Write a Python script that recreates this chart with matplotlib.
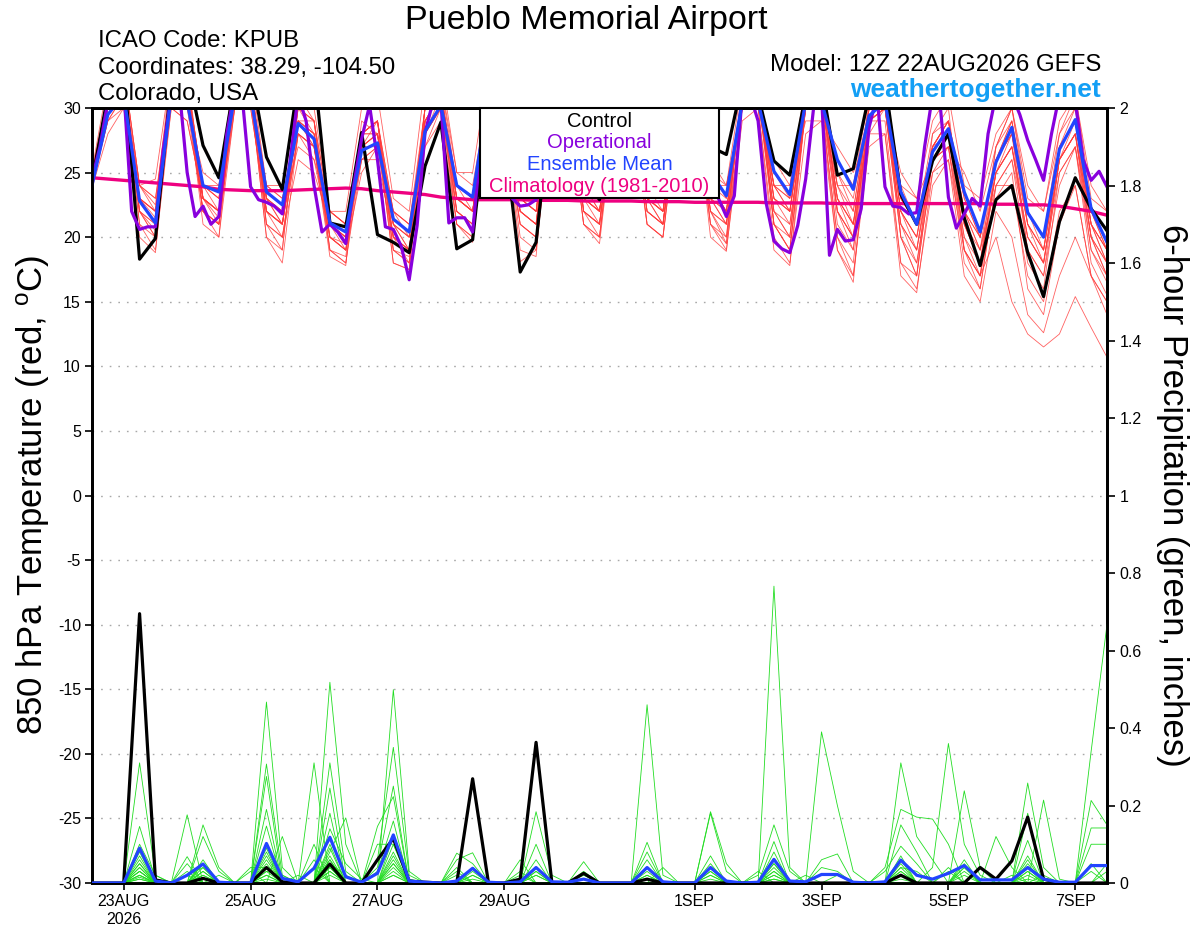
import numpy as np
import pandas as pd
import matplotlib
matplotlib.use("Agg")
import matplotlib.pyplot as plt
from matplotlib.patches import Rectangle

plt.rcParams['font.family'] = ['Liberation Sans', 'DejaVu Sans']
plt.rcParams['mathtext.fontset'] = 'custom'
plt.rcParams['mathtext.rm'] = 'Liberation Sans'
plt.rcParams['mathtext.it'] = 'Liberation Sans'

# ---------------- data ----------------
times = pd.date_range("2026-08-22 12:00", "2026-09-07 12:00", freq="6h")     # 65 GEFS steps
op_times = pd.date_range("2026-08-22 12:00", "2026-09-07 12:00", freq="3h")  # 129 operational steps

control_t = [24.3, 31, 33, 18.3, 19.9, 32, 33, 27.1, 24.6, 32, 33, 26.2, 23.7, 32, 33, 21.1, 20.8,
             28.1, 20.2, 19.6, 18.8, 25.5, 28.9, 19.1, 19.8, 31, 28, 17.3, 19.6, 31, 32, 24.5, 22.9,
             31, 32, 25, 24, 31, 32, 27, 26.4, 32, 31, 25.9, 24.8, 31, 32, 24.8, 25.3,
             31, 32, 23.3, 21.0, 25.9, 28.0, 21.5, 17.8, 22.9, 24.0, 18.8, 15.4, 21.2, 24.6, 22.2, 20.5]

mean_t = [24.0, 29.5, 31, 22.8, 21.1, 31, 30.5, 24.0, 23.5, 31, 31, 23.5, 22.5, 28.8, 27.6, 21.1, 20.4,
          26.7, 27.3, 21.4, 20.4, 28.2, 30.2, 24.0, 23.1, 31, 28, 24, 24.5, 30.5, 31, 24.5, 23.6,
          30.5, 31, 24.5, 24, 30.5, 31, 25, 23.2, 30.5, 30.5, 25.1, 23.3, 30.5, 30.5, 26.0, 23.7,
          29.4, 30.5, 23.5, 21.0, 26.6, 28.4, 23.5, 20.4, 25.8, 28.5, 21.9, 20.0, 26.8, 29.1, 22.2, 19.6]

oper_t = [24.5, 27, 30.5, 31.5, 31.5, 22.0, 20.6, 20.8,
          20.8, 26.8, 31, 31.5, 25, 21.6, 22.4, 21.0,
          21.6, 28, 31.5, 30.5, 23.9, 22.9, 22.7, 22.4,
          21.8, 26.0, 31, 29, 24, 20.4, 21.0, 20.4,
          19.5, 24.0, 27.6, 30.2, 26.0, 20.8, 20.6, 19.3,
          16.7, 20.9, 28.1, 30.5, 30.5, 21.1, 21.5, 21.5,
          20.4, 26.8, 31, 31, 27, 23.0, 22.4, 22.5,
          22.9, 27, 31, 31.5, 30, 26, 24, 23.5,
          24, 28, 31, 31.5, 30, 26, 24, 23.5,
          24, 28, 31, 31.5, 30, 26, 24, 23,
          21.6, 23.2, 31, 31, 29, 22.7, 19.7, 19.1,
          18.8, 20.9, 24.5, 30, 31, 18.6, 20.6, 19.7,
          19.8, 22.2, 28.5, 31, 23.9, 22.4, 22.3, 21.8,
          21.9, 27, 31, 30, 23.1, 20.7, 21.8, 23.0,
          22.4, 28, 31, 31.5, 31, 29.5, 27.5, 26,
          24.4, 28, 31, 31, 30.5, 26, 24.4, 25.1,
          23.9]

clim_t = [24.6, 24.5, 24.4, 24.3, 24.2, 24.1, 24.0, 23.9, 23.7, 23.65, 23.6, 23.6, 23.6, 23.65, 23.7,
          23.75, 23.8, 23.75, 23.6, 23.5, 23.4, 23.3, 23.1, 23.0, 22.9, 22.9, 22.9, 22.9, 22.85, 22.85,
          22.85, 22.8, 22.8, 22.8, 22.8, 22.75, 22.75, 22.75, 22.7, 22.7, 22.7, 22.7, 22.7, 22.65, 22.65,
          22.65, 22.65, 22.6, 22.6, 22.6, 22.6, 22.6, 22.6, 22.6, 22.6, 22.6, 22.6, 22.55, 22.55, 22.5,
          22.5, 22.4, 22.2, 22.0, 21.7]

temp_members = [
    [24.6, 30,32,22,21, 32,31,24,23, 32,32,23,22, 29,28,21,20, 27,28,21,20, 29,31,24,23, 32,30,24,24, 31,32,24,23, 31,31,25,24, 31,32,25,23, 31,31,25,23, 31,31,26,24, 30,31,23,21, 27,29,23,20, 26,29,22,20, 27,30,22,19],
    [24.2, 29,31,24,22.5, 33,32,23,21, 31,33,21,19, 31,29,20,19, 25,27,22,21, 27,29,21,20, 33,29,19,18.5, 32,33,22,21, 32,32,23,21, 31,30,22,19.5, 32,32,21,20, 32,33,22,20, 31,32,20,17, 28,30,19,17, 25,28,19,17, 24,27,19,17],
    [25.0, 31,33,24,23, 31,30,25,24, 30,31,24,23, 28,26,22,21, 28,29,19,18, 30,32,25,24, 31,29,25,25, 30,31,25,24, 30,30,26,25, 32,33,26,24, 30,30,26,24, 29,29,27,25, 28,30,25,23, 26,27,25,22, 27,30,24,22, 28,31,24,22],
    [23.8, 28,30,23,21, 31,31,24,23, 32,31,23,22, 27,26,20,19.5, 26,27,20,19, 28,30,23,22, 31,28,23,24, 30,31,25,24, 31,32,24,23, 30,31,24,22, 31,30,24,22, 31,32,25,22, 30,30,23,21, 26,28,22,19, 24,26,20,18, 25,27,20,18],
    [24.5, 30,31,21,19, 30,29,23,22, 31,30,22,21, 29,28,19,18, 26,26,20,18, 27,30,22,21, 30,28,21,20, 31,32,24,22, 30,31,24,23, 31,31,25,24, 30,31,24,23, 30,30,24,21, 29,30,21,18, 25,27,20,17, 23,25,16,14, 21,24,17,15],
    [24.4, 30,32,22,20, 31,30,22,21, 30,31,21,20, 28,27,19,18, 27,28,18,17.5, 28,30,21,20, 30,29,20,19, 30,31,21,20, 31,30,22,21, 30,30,21,19, 29,30,20,18, 28,29,19,17, 27,28,18,16, 24,26,19,17, 20,15,12.5,11.5, 12.5,15.4,13,10.7],
    [24.7, 31,32,23,22, 32,31,22,21, 31,32,22,21, 30,28,21,20, 28,29,21,20, 30,31,22,21, 31,30,22,21, 31,32,22,21, 31,31,22,21, 31,31,22,20, 30,31,21,19, 30,30,20,17, 28,28,17,15.7, 25,26,17,15, 22,20,14,12.6, 17,20,17,15],
    [24.0, 29,30,20,18.8, 31,32,22,20, 30,31,20,18, 28,27,18.5,17.8, 29,28,18,17.5, 29,31,21,19.6, 31,27,18.1,19, 30,31,21,19.5, 30,30,21,20, 30,31,20,18.9, 30,30,19,17.8, 30,30,19,16.5, 29,29,18,17, 26,27,18,16, 24,24,17,15, 22,24,17,14],
    [25.2, 32,33,24,24.5, 33,32,24,24, 33,33,24,24, 31,30,22,22, 30,31,23,22, 32,33,25,25, 33,31,24,24, 32,33,24,24, 32,32,24,24, 32,32,24,24, 32,32,24,24, 32,32,24,24, 31,32,24,23, 29,31,24,23, 28,30,23,22, 29,31,23,22],
    [24.3, 30,31,23,21, 31,31,21,20, 32,31,20,19, 30,29,19,18.5, 28,29,20,19, 30,32,22,21, 32,29,22,21, 31,31,23,22, 32,32,22,21, 31,31,23,21, 31,31,22,21, 30,31,23,21, 29,31,22,20, 27,29,21,18, 27,29,21,19, 26,29,21,18],
    [24.9, 31,32,22,20, 30,29,23,22, 31,32,23,22, 29,27,21,19, 27,29,21,19, 29,31,23,22, 32,30,23,22, 31,31,23,22, 31,31,23,22, 31,32,21,20, 32,32,23,22, 31,31,24,22, 30,31,22,20, 27,29,21,19, 27,30,22,20, 28,30,21,19],
    [24.5, 30,32,23,22, 32,33,23,22, 30,30,22,20, 26,25,21,20, 26,27,21,20, 28,31,23,22, 31,29,22,21, 32,32,23,21, 30,31,23,21, 31,31,24,22, 31,31,23,21, 30,31,22,20, 29,30,22,19, 27,28,21,18, 25,27,20,18, 26,28,20,17],
    [23.9, 29,31,23,21.5, 31,32,23,21.5, 31,32,24,23, 29,28,22,21, 27,28,22,21, 29,31,24,23, 31,30,23,22, 31,31,24,22, 31,32,24,22, 31,31,24,23, 31,31,24,23, 31,31,25,23, 30,31,24,21, 27,29,23,20, 26,28,22,20, 27,29,22,19],
    [24.6, 31,32,24,23, 32,32,24,23, 32,32,22,21, 30,29,20,19, 28,29,19,18.5, 30,32,24,23, 31,30,21,20, 31,31,22,20, 31,31,21,20, 31,32,22,21, 31,31,22,20, 31,30,22,19, 30,30,21,19, 26,28,20,18, 25,27,19,17, 26,28,19,16.5],
    [24.1, 30,31,22,20.5, 32,31,22,21, 31,32,22,21, 28,27,21,20, 28,28,20,19, 29,31,23,22, 32,29,22,21, 31,32,22,21, 31,31,23,22, 31,31,23,21, 31,32,21,19, 30,31,23,20, 29,30,20,18, 26,28,19,17, 26,28,21,19, 27,29,20,18],
    [24.8, 30,32,23,22, 31,31,23,22, 31,31,23,21, 29,28,21,20, 28,28,21,19, 29,31,24,22, 31,30,23,22, 31,31,23,22, 30,31,23,22, 30,31,23,22, 31,31,23,22, 30,31,22,20, 29,30,22,20, 26,28,22,19, 25,27,21,18, 26,28,21,18],
    [24.4, 30,31,22,21, 31,31,23,22, 31,31,22,21, 29,27,20,19, 27,28,20,19, 29,31,23,22, 31,29,22,21, 31,31,22,21, 31,31,22,21, 31,31,22,21, 31,31,22,20, 30,31,21,19, 29,30,21,19, 26,28,21,18, 25,27,20,18, 26,28,20,17],
    [24.9, 31,33,24,22, 32,32,24,22, 31,32,23,21, 29,29,22,21, 28,29,22,20, 30,31,24,23, 32,30,23,22, 31,32,23,22, 31,31,23,22, 31,31,24,22, 31,31,24,22, 31,31,23,21, 30,31,23,21, 27,29,22,20, 26,29,22,19, 27,29,21,19],
    [24.2, 30,32,21,20, 31,31,22,21, 31,31,21,20, 28,27,20,19, 27,27,19,18, 28,30,22,21, 31,29,21,20, 31,31,21,20, 30,31,21,20, 30,31,21,19.5, 30,31,21,19, 30,30,20,18, 29,30,20,17, 26,27,19,16, 24,26,18,16, 25,27,18,15.5],
    [24.7, 31,32,23,22, 32,31,23,22, 32,32,23,22, 30,29,22,21, 28,29,22,21, 30,31,23,22, 31,30,23,22, 31,31,23,22, 31,31,23,22, 31,31,23,22, 31,31,23,22, 31,31,23,21, 30,31,23,21, 28,29,22,20, 26,28,21,19, 26,28,21,19],
]

control_p = [0, 0, 0, 0.695, 0.008, 0, 0, 0.012, 0, 0, 0, 0.04, 0.003, 0, 0, 0.049, 0, 0, 0.06, 0.115,
             0.005, 0.002, 0, 0, 0.269, 0, 0, 0.01, 0.363, 0, 0, 0.025, 0, 0, 0, 0.01, 0, 0, 0, 0,
             0, 0, 0, 0, 0, 0, 0, 0, 0, 0, 0, 0.02, 0, 0, 0, 0, 0.04, 0.01, 0.057, 0.17,
             0.01, 0, 0, 0, 0]

mean_p = [0, 0, 0, 0.09, 0.005, 0, 0.02, 0.049, 0.002, 0, 0, 0.102, 0.012, 0.003, 0.038, 0.118, 0.016,
          0.002, 0.025, 0.124, 0.005, 0.002, 0, 0.005, 0.038, 0.002, 0, 0.003, 0.04, 0.003, 0.002, 0.01,
          0, 0, 0, 0.04, 0.003, 0, 0, 0.04, 0.005, 0, 0.002, 0.061, 0.005, 0.003, 0.022, 0.022, 0.002,
          0, 0.003, 0.059, 0.02, 0.01, 0.025, 0.045, 0.008, 0.008, 0.008, 0.04, 0.01, 0.002, 0.002,
          0.045, 0.045]

# ensemble-member precipitation: step index -> amount (all other steps are zero)
precip_member_peaks = [
    {3:0.06, 7:0.06, 11:0.10, 13:0.02, 15:0.31, 16:0.03, 19:0.12, 28:0.03, 39:0.184, 40:0.05, 51:0.15, 52:0.08, 55:0.05, 63:0.10, 64:0.10},
    {3:0.31, 4:0.02, 6:0.05, 11:0.307, 12:0.02, 15:0.04, 19:0.03, 28:0.10, 35:0.08, 43:0.05, 51:0.04, 59:0.258, 60:0.04},
    {3:0.03, 7:0.04, 10:0.04, 11:0.04, 14:0.31, 18:0.04, 19:0.25, 27:0.03, 39:0.02, 46:0.06, 47:0.075, 57:0.12, 58:0.04},
    {3:0.146, 4:0.01, 6:0.176, 11:0.19, 15:0.14, 16:0.05, 17:0.01, 23:0.077, 24:0.05, 35:0.02, 42:0.02, 43:0.15, 44:0.03, 51:0.06, 63:0.34, 64:0.667},
    {3:0.02, 7:0.15, 8:0.04, 14:0.06, 19:0.499, 20:0.03, 31:0.03, 35:0.105, 55:0.03, 59:0.07},
    {3:0.10, 4:0.02, 6:0.02, 11:0.467, 12:0.04, 18:0.03, 19:0.16, 39:0.05, 43:0.107, 50:0.04, 51:0.19, 52:0.17, 53:0.165, 54:0.10},
    {3:0.01, 7:0.12, 8:0.03, 11:0.06, 15:0.245, 19:0.07, 24:0.02, 28:0.184, 29:0.02, 46:0.04, 47:0.03, 60:0.214, 61:0.01},
    {3:0.08, 6:0.068, 11:0.03, 15:0.518, 16:0.10, 23:0.02, 35:0.06, 43:0.03, 54:0.04, 59:0.11},
    {3:0.05, 7:0.02, 11:0.275, 15:0.10, 19:0.02, 27:0.06, 39:0.18, 40:0.03, 55:0.04, 63:0.213, 64:0.15},
    {3:0.04, 6:0.03, 11:0.01, 14:0.10, 18:0.146, 19:0.223, 43:0.766, 44:0.04, 50:0.03, 51:0.095, 52:0.05, 59:0.05},
    {3:0.03, 7:0.05, 11:0.147, 15:0.03, 23:0.06, 24:0.078, 35:0.46, 36:0.02, 43:0.02, 58:0.02, 63:0.142, 64:0.142},
    {3:0.02, 7:0.03, 14:0.04, 18:0.06, 19:0.35, 20:0.02, 31:0.055, 39:0.07, 51:0.03, 59:0.18},
    {3:0.01, 8:0.02, 11:0.08, 15:0.08, 16:0.168, 23:0.04, 28:0.02, 35:0.03, 43:0.08, 51:0.31, 52:0.12, 53:0.06, 63:0.05},
    {10:0.03, 12:0.12, 15:0.18, 19:0.05, 31:0.02, 36:0.04, 53:0.04, 54:0.36, 55:0.10, 56:0.02},
    {11:0.02, 15:0.02, 18:0.10, 19:0.10, 28:0.06, 39:0.03, 46:0.39, 47:0.20, 48:0.03, 59:0.03},
    {15:0.06, 24:0.03, 27:0.02, 35:0.04, 42:0.03, 45:0.02, 55:0.238, 56:0.04, 64:0.05},
    {3:0.04, 7:0.03, 11:0.05, 15:0.06, 19:0.08, 24:0.02, 28:0.03, 35:0.02, 39:0.04, 43:0.04, 51:0.05, 55:0.06, 59:0.06, 63:0.03},
    {3:0.03, 6:0.02, 7:0.04, 11:0.07, 15:0.09, 19:0.06, 23:0.03, 28:0.02, 39:0.03, 43:0.03, 51:0.04, 52:0.03, 59:0.04},
    {3:0.05, 7:0.02, 11:0.04, 15:0.05, 16:0.02, 19:0.10, 20:0.01, 35:0.01, 43:0.02, 51:0.02, 55:0.04, 59:0.02, 64:0.03},
    {3:0.02, 7:0.05, 11:0.09, 15:0.04, 19:0.04, 28:0.04, 39:0.02, 43:0.05, 47:0.02, 51:0.03, 54:0.03, 59:0.03},
    {3:0.07, 11:0.03, 12:0.02, 15:0.07, 19:0.05, 24:0.01, 31:0.01, 39:0.01, 43:0.01, 51:0.07, 55:0.02, 60:0.02},
    {3:0.015, 7:0.01, 11:0.02, 15:0.03, 19:0.02, 35:0.01, 43:0.01, 51:0.01, 59:0.01},
]

tick_dates = pd.to_datetime(["2026-08-23", "2026-08-25", "2026-08-27", "2026-08-29",
                             "2026-09-01", "2026-09-03", "2026-09-05", "2026-09-07"])
tick_labels = ["23AUG\n2026", "25AUG", "27AUG", "29AUG", "1SEP", "3SEP", "5SEP", "7SEP"]
temp_ticks = list(range(-30, 31, 5))
precip_ticks = [0, 0.2, 0.4, 0.6, 0.8, 1, 1.2, 1.4, 1.6, 1.8, 2]
precip_tick_labels = ["0", "0.2", "0.4", "0.6", "0.8", "1", "1.2", "1.4", "1.6", "1.8", "2"]

for arr in [control_t, mean_t, clim_t, control_p, mean_p] + temp_members:
    assert len(arr) == len(times), len(arr)
assert len(oper_t) == len(op_times)

precip_members = [[m.get(i, 0.0) for i in range(len(times))] for m in precip_member_peaks]

# ---------------- colours ----------------
C_RED = '#ff3a3a'
C_GREEN = '#22dd22'
C_OPER = '#8800dd'
C_MEAN = '#2244ff'
C_CLIM = '#ee0080'

W, H = 1200, 927
fig = plt.figure(figsize=(W / 100, H / 100), dpi=100)
ax = fig.add_axes([92 / W, 44 / H, 1015 / W, 775 / H])

for v in range(-25, 30, 5):
    ax.axhline(v, color='#a8a8a8', lw=1.0, ls=(0, (1.2, 5)), zorder=0.5)

for m in temp_members:
    ax.plot(times, m, color=C_RED, lw=0.6, alpha=0.8, zorder=1)
ax.plot(times, clim_t, color=C_CLIM, lw=2.4, zorder=2)
ax.plot(times, control_t, color='black', lw=2.3, zorder=3)
ax.plot(op_times, oper_t, color=C_OPER, lw=2.3, zorder=4)
ax.plot(times, mean_t, color=C_MEAN, lw=2.3, zorder=5)

ax.set_xlim(times[0], times[-1])
ax.set_ylim(-30, 30)
ax.set_yticks(temp_ticks)
ax.set_yticklabels([str(t) for t in temp_ticks])
ax.set_xticks(tick_dates)
ax.set_xticklabels(tick_labels)
ax.tick_params(axis='both', direction='out', length=5, width=1.2, labelsize=11.5, pad=3)
for s in ax.spines.values():
    s.set_linewidth(2.0)

ax2 = ax.twinx()
for p in precip_members:
    ax2.plot(times, p, color=C_GREEN, lw=0.6, zorder=1)
ax2.plot(times, control_p, color='black', lw=2.3, zorder=3)
ax2.plot(times, mean_p, color=C_MEAN, lw=2.3, zorder=4)
ax2.set_ylim(0, 2)
ax2.set_yticks(precip_ticks)
ax2.set_yticklabels(precip_tick_labels)
ax2.tick_params(axis='y', direction='out', length=6, width=1.2, labelsize=11.5, pad=3)
for s in ax2.spines.values():
    s.set_linewidth(2.0)


def fy(px):
    return 1 - px / H


fig.text(33 / W, fy(495), r'850 hPa Temperature (red, $^{\rm o}$C)', rotation=90,
         ha='center', va='center', fontsize=25)
fig.text(1172 / W, fy(495), '6-hour Precipitation (green, inches)', rotation=270,
         ha='center', va='center', fontsize=25)

fig.text(586 / W, fy(29), 'Pueblo Memorial Airport', ha='center', va='baseline', fontsize=24.5)
fig.text(98 / W, fy(47), 'ICAO Code: KPUB', ha='left', va='baseline', fontsize=17.3)
fig.text(98 / W, fy(74), 'Coordinates: 38.29, -104.50', ha='left', va='baseline', fontsize=17.3)
fig.text(98 / W, fy(100), 'Colorado, USA', ha='left', va='baseline', fontsize=17.3)
fig.text(1101 / W, fy(71), 'Model: 12Z 22AUG2026 GEFS', ha='right', va='baseline', fontsize=17.3)
fig.text(1101 / W, fy(97), 'weathertogether.net', ha='right', va='baseline', fontsize=19,
         fontweight='bold', color='#139ff5')

# legend box
rect = Rectangle((480 / W, fy(198)), 239 / W, 90 / H, transform=fig.transFigure,
                 facecolor='white', edgecolor='black', lw=1.5, zorder=10)
fig.add_artist(rect)
for txt, col, base in [('Control', 'black', 127), ('Operational', C_OPER, 148.5),
                       ('Ensemble Mean', C_MEAN, 170), ('Climatology (1981-2010)', C_CLIM, 191.5)]:
    fig.text(599.5 / W, fy(base), txt, color=col, ha='center', va='baseline', fontsize=14.5, zorder=11)

fig.savefig('out.png', dpi=100)
